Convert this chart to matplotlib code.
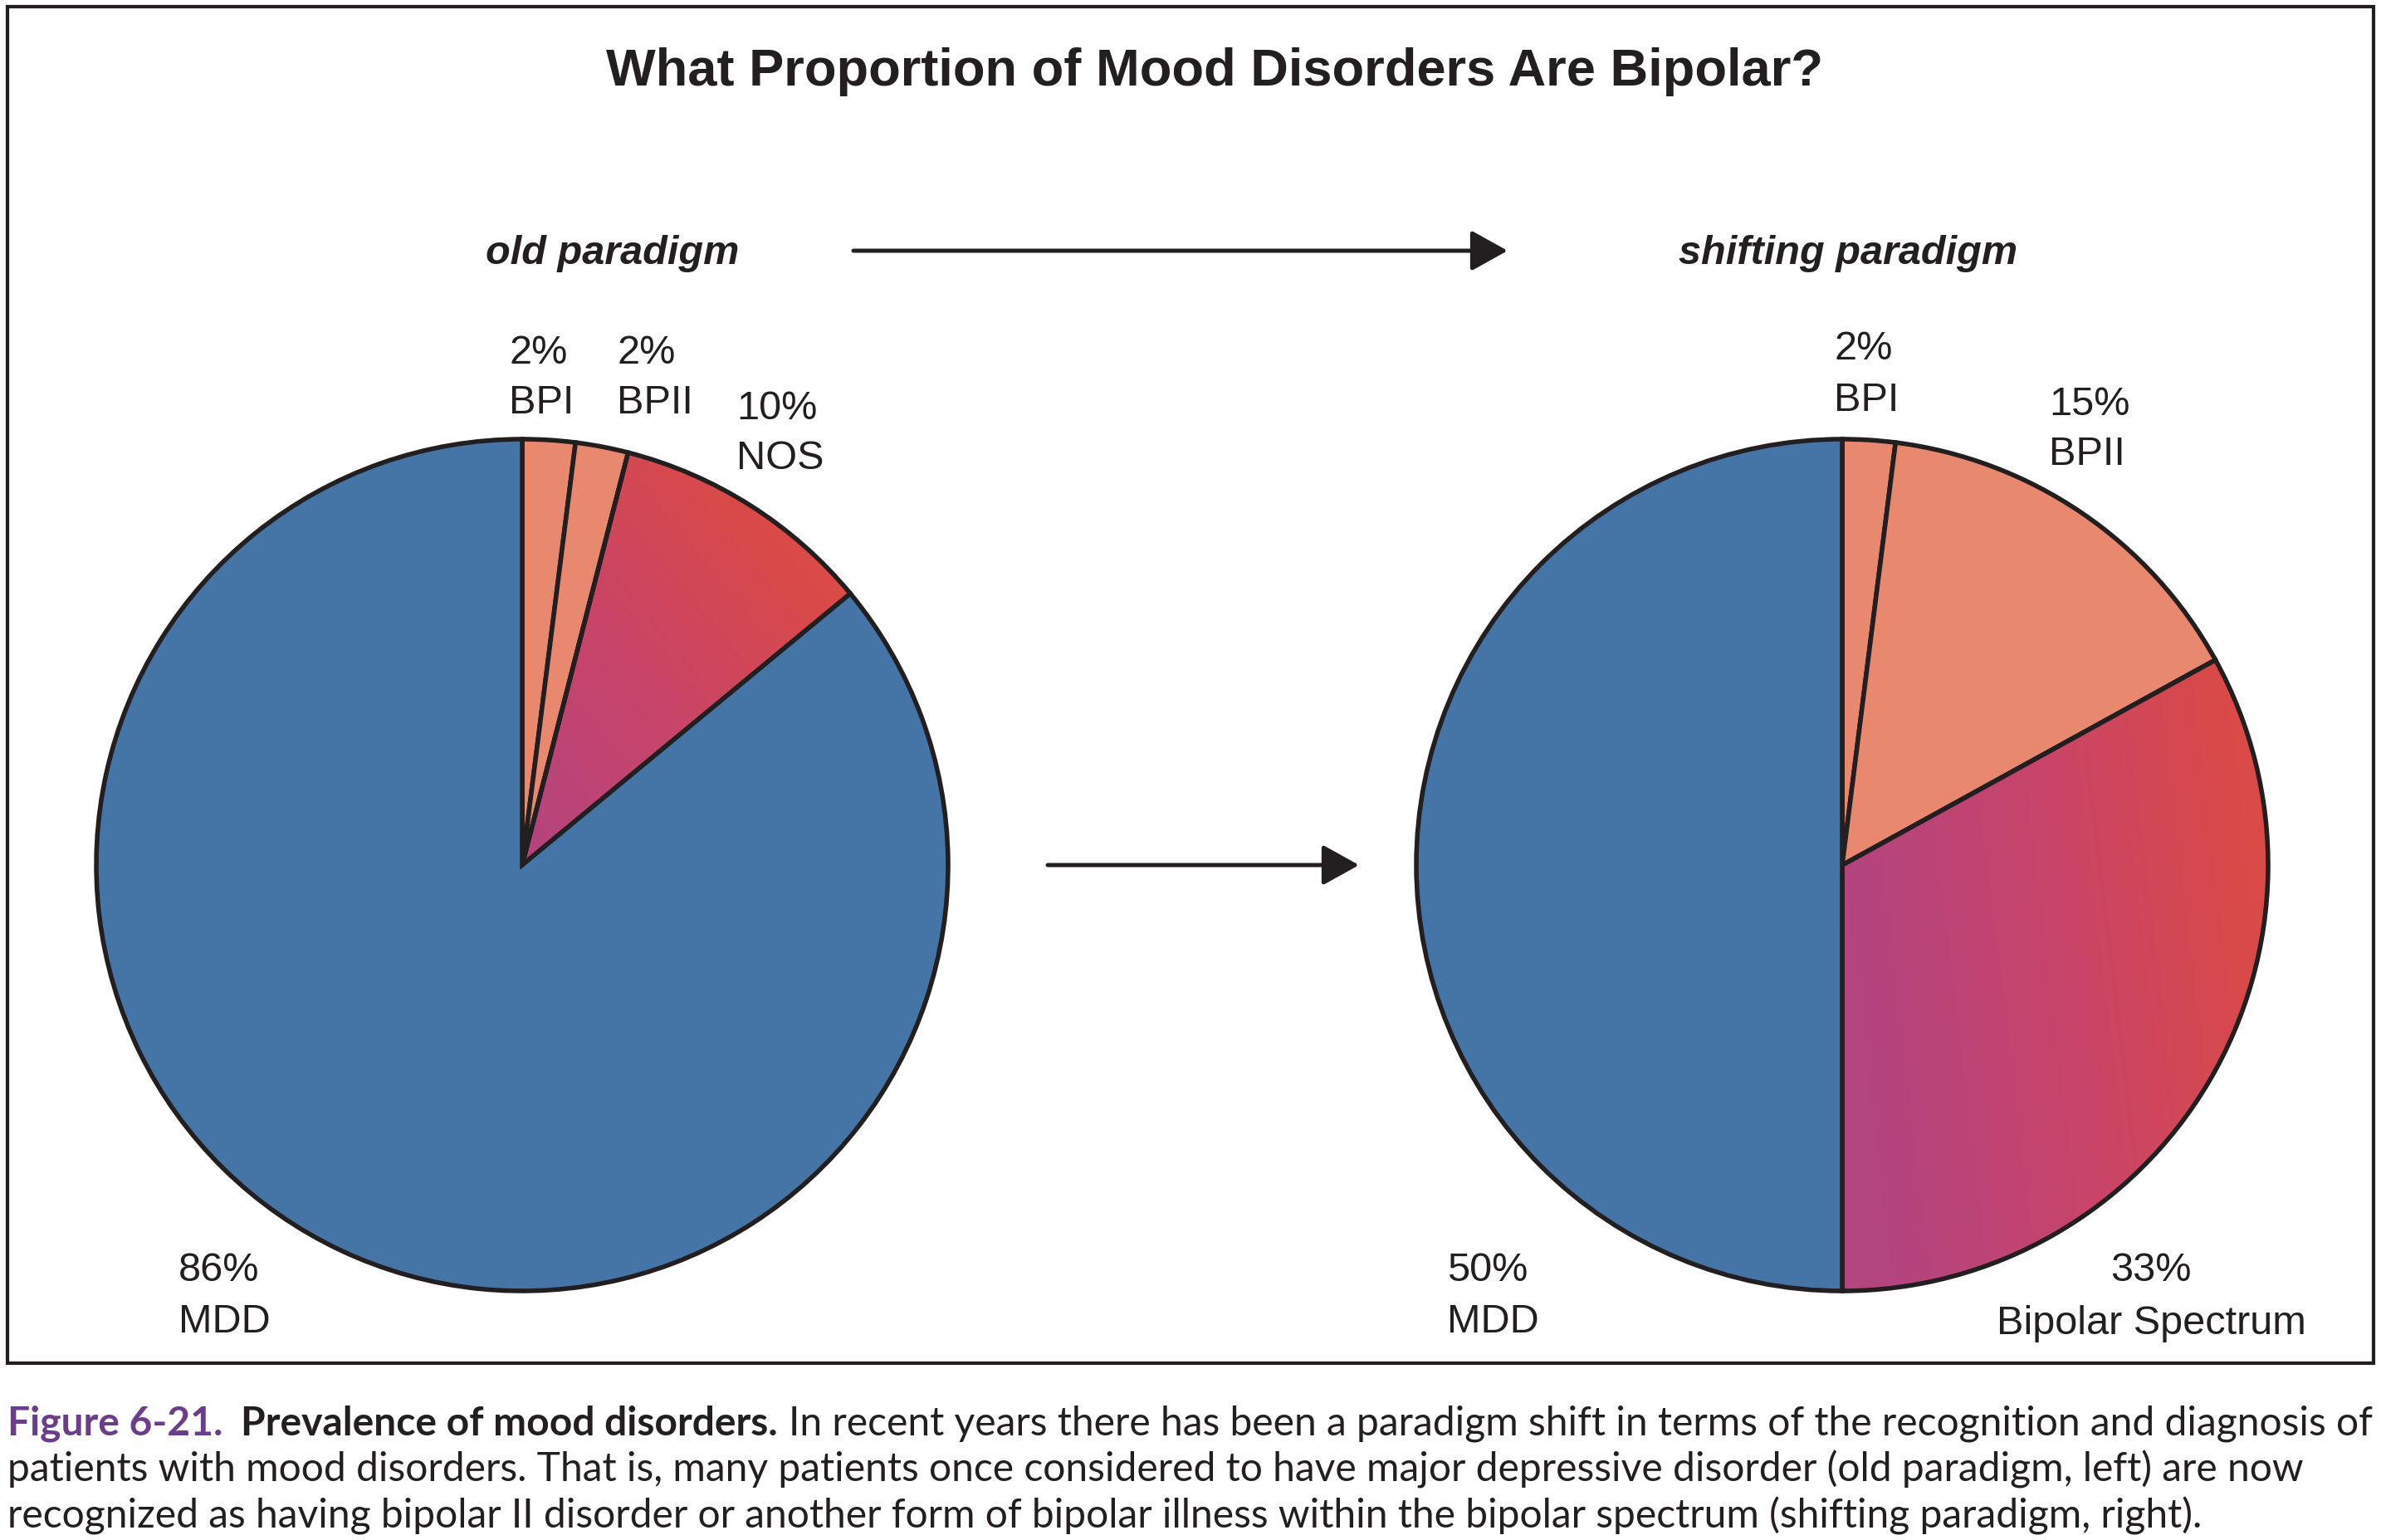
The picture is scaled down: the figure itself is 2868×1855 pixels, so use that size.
import numpy as np
import matplotlib
matplotlib.use('Agg')
import matplotlib.pyplot as plt
from matplotlib.colors import LinearSegmentedColormap
from matplotlib.patches import Rectangle

plt.rcParams['font.family'] = ['Liberation Sans', 'DejaVu Sans']

# --- data ---
title = 'What Proportion of Mood Disorders Are Bipolar?'
old_title = 'old paradigm'
new_title = 'shifting paradigm'

old_names = ['BPI', 'BPII', 'NOS', 'MDD']
old_pct = [2, 2, 10, 86]

new_names = ['BPI', 'BPII', 'Bipolar Spectrum', 'MDD']
new_pct = [2, 15, 33, 50]

caption_fig = 'Figure 6-21.'
caption_head = 'Prevalence of mood disorders.'
caption_lines = [
    'In recent years there has been a paradigm shift in terms of the recognition and diagnosis of',
    'patients with mood disorders. That is, many patients once considered to have major depressive disorder (old paradigm, left) are now',
    'recognized as having bipolar II disorder or another form of bipolar illness within the bipolar spectrum (shifting paradigm, right).',
]

# --- style ---
W, H = 2868, 1856
DPI = 100
INK = '#231F20'
BLUE = '#4574A6'
SALMON = '#E8896F'
PURPLE = '#6B3D8B'
grad_cmap = LinearSegmentedColormap.from_list('bp', ['#B3457F', '#C8446A', '#DA4A47'])

old_colors = [SALMON, SALMON, None, BLUE]
new_colors = [SALMON, SALMON, None, BLUE]

fig = plt.figure(figsize=(W / DPI, H / DPI), dpi=DPI)
fig.patch.set_facecolor('white')

# pixel canvas for text, arrows, frame
cv = fig.add_axes([0, 0, 1, 1])
cv.set_xlim(0, W)
cv.set_ylim(H, 0)
cv.axis('off')

cv.add_patch(Rectangle((9, 9), 2850, 1634, fill=False, edgecolor=INK, linewidth=3))

cv.text(1463, 103, title, ha='center', va='baseline', fontsize=45.5,
        fontweight='bold', color=INK)
cv.text(738, 318, old_title, ha='center', va='baseline', fontsize=35,
        fontweight='bold', fontstyle='italic', color=INK)
cv.text(2226, 318, new_title, ha='center', va='baseline', fontsize=35,
        fontweight='bold', fontstyle='italic', color=INK)

arrow = dict(arrowstyle='-|>,head_length=0.9,head_width=0.5', color=INK,
             lw=3.6, mutation_scale=30, shrinkA=0, shrinkB=0)
cv.annotate('', xy=(1816, 303), xytext=(1028, 303), arrowprops=arrow)
cv.annotate('', xy=(1637, 1043), xytext=(1262, 1043), arrowprops=arrow)


def draw_pie(cx, cy, r, vals, colors, grad_dir):
    pad = 1.1
    ax = fig.add_axes([(cx - pad * r) / W, (H - cy - pad * r) / H,
                       2 * pad * r / W, 2 * pad * r / H])
    fc = [c if c is not None else 'none' for c in colors]
    wedges, _ = ax.pie(vals, colors=fc, startangle=90, counterclock=False,
                       wedgeprops=dict(edgecolor=INK, linewidth=4.0))
    gi = colors.index(None)
    xs = np.linspace(-1, 1, 500)
    X, Y = np.meshgrid(xs, xs)
    d = np.array(grad_dir) / np.hypot(*grad_dir)
    t = np.clip((X * d[0] + Y * d[1]) / 0.95, 0, 1)
    im = ax.imshow(t, cmap=grad_cmap, vmin=0, vmax=1, extent=(-1, 1, -1, 1),
                   origin='lower', interpolation='bilinear', zorder=0.5)
    im.set_clip_path(wedges[gi])
    ax.set_xlim(-pad, pad)
    ax.set_ylim(-pad, pad)
    ax.set_aspect('equal')
    ax.axis('off')
    ax.patch.set_visible(False)
    return ax


draw_pie(629, 1043, 513, old_pct, old_colors, (0.77, 0.64))
draw_pie(2219, 1043, 513, new_pct, new_colors, (1.0, 0.12))

# slice labels: (x, baseline of % line, baseline of name line, align)
old_pos = [(613, 438, 498, 'left'), (743, 438, 498, 'left'),
           (887, 505, 565, 'left'), (215, 1543, 1605, 'left')]
new_pos = [(2209, 433, 495, 'left'), (2468, 500, 560, 'left'),
           (2591, 1543, 1607, 'center'), (1743, 1543, 1605, 'left')]

for names, pcts, pos in [(old_names, old_pct, old_pos), (new_names, new_pct, new_pos)]:
    for name, p, (x, y1, y2, ha) in zip(names, pcts, pos):
        cv.text(x, y1, f'{p}%', ha=ha, va='baseline', fontsize=35, color=INK)
        cv.text(x, y2, name, ha=ha, va='baseline', fontsize=35, color=INK)

# caption, fitted to the frame width
renderer = fig.canvas.get_renderer()
cap_family = ['Lato', 'DejaVu Sans']


def draw_caption(size):
    arts = []
    em = size * DPI / 72
    x = 9
    runs = [(caption_fig, 'bold', PURPLE, 0.45),
            (caption_head, 'bold', INK, 0.28),
            (caption_lines[0], 'normal', INK, 0)]
    for txt, wt, col, gap in runs:
        t = cv.text(x, 1729, txt, ha='left', va='baseline', fontsize=size,
                    fontweight=wt, color=col, family=cap_family)
        arts.append(t)
        x += t.get_window_extent(renderer).width + gap * em
    for i, line in enumerate(caption_lines[1:]):
        arts.append(cv.text(9, 1785 + 56 * i, line, ha='left', va='baseline',
                            fontsize=size, color=INK, family=cap_family))
    return arts, x


arts, xend = draw_caption(30)
size = 30 * (2859 - 9) / (xend - 9)
for a in arts:
    a.remove()
draw_caption(size)

fig.savefig('out.png', dpi=DPI)
